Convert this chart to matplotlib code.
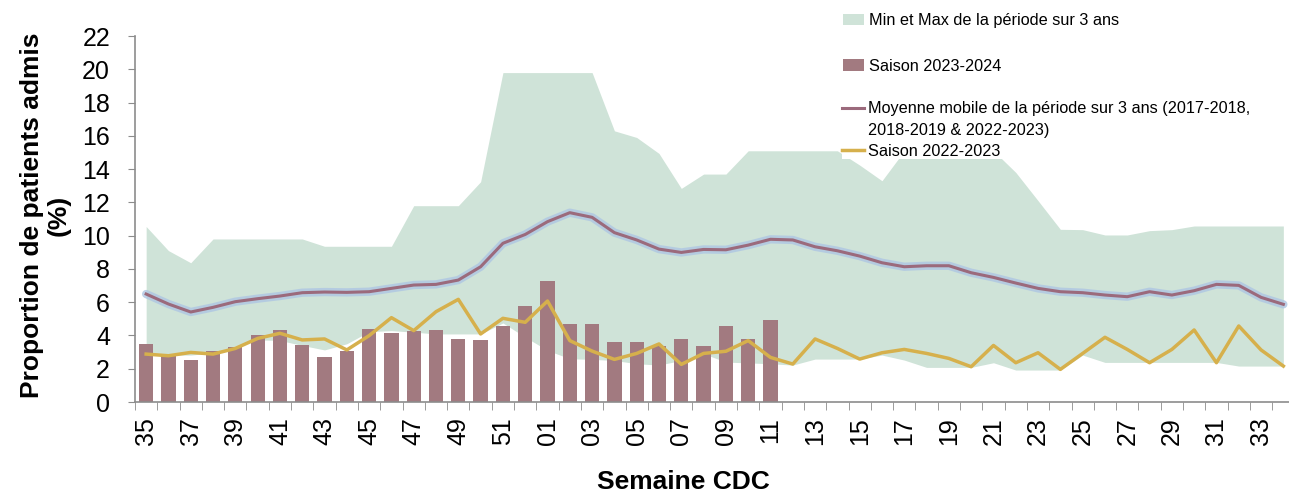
import numpy as np
import matplotlib
matplotlib.use("Agg")
import matplotlib.pyplot as plt
from matplotlib.patches import Patch
from matplotlib.lines import Line2D

plt.rcParams['font.family'] = ['Liberation Sans', 'DejaVu Sans']

# Semaines CDC (35 -> 34)
weeks = ['35', '36', '37', '38', '39', '40', '41', '42', '43', '44', '45', '46',
         '47', '48', '49', '50', '51', '52', '01', '02', '03', '04', '05', '06',
         '07', '08', '09', '10', '11', '12', '13', '14', '15', '16', '17', '18',
         '19', '20', '21', '22', '23', '24', '25', '26', '27', '28', '29', '30',
         '31', '32', '33', '34']

# Saison 2023-2024 (barres, jusqu'a la semaine 11)
saison_2324 = [3.5, 2.8, 2.55, 3.05, 3.3, 4.0, 4.33, 3.45, 2.7, 3.05, 4.4, 4.17,
               4.27, 4.33, 3.8, 3.7, 4.57, 5.75, 7.3, 4.67, 4.67, 3.63, 3.63, 3.37,
               3.8, 3.37, 4.57, 3.8, 4.93]

# Saison 2022-2023
saison_2223 = [2.88, 2.78, 2.98, 2.88, 3.22, 3.82, 4.13, 3.73, 3.79, 3.13, 3.99, 5.07,
               4.29, 5.43, 6.17, 4.09, 5.03, 4.79, 6.07, 3.69, 3.06, 2.56, 2.92, 3.49,
               2.26, 2.92, 3.05, 3.69, 2.68, 2.28, 3.79, 3.22, 2.58, 2.96, 3.16, 2.92,
               2.62, 2.12, 3.4, 2.36, 2.96, 1.96, 2.92, 3.89, 3.16, 2.36, 3.16, 4.33,
               2.36, 4.57, 3.13, 2.16]

# Moyenne mobile sur 3 ans
moyenne = [6.49, 5.89, 5.41, 5.69, 6.03, 6.21, 6.37, 6.57, 6.61, 6.59, 6.63, 6.83,
           7.03, 7.07, 7.33, 8.13, 9.54, 10.07, 10.84, 11.38, 11.1, 10.18, 9.74, 9.19,
           8.99, 9.17, 9.15, 9.43, 9.78, 9.74, 9.33, 9.09, 8.77, 8.37, 8.13, 8.19,
           8.19, 7.77, 7.49, 7.15, 6.83, 6.63, 6.57, 6.43, 6.33, 6.63, 6.43, 6.69,
           7.07, 7.01, 6.29, 5.87]

# Min et Max sur 3 ans
band_min = [2.85, 2.82, 2.82, 2.95, 3.35, 3.73, 3.7, 3.4, 3.13, 3.5, 4.23, 4.29,
            4.2, 4.09, 4.09, 4.09, 4.75, 3.9, 3.1, 2.6, 2.56, 2.5, 2.3, 2.22,
            2.5, 2.9, 2.4, 2.35, 2.3, 2.22, 2.58, 2.58, 2.58, 2.82, 2.52, 2.08,
            2.08, 2.08, 2.36, 1.92, 1.92, 1.92, 2.82, 2.38, 2.38, 2.38, 2.38, 2.38,
            2.38, 2.16, 2.16, 2.16]
band_max = [10.55, 9.1, 8.37, 9.8, 9.8, 9.8, 9.8, 9.8, 9.36, 9.36, 9.36, 9.36,
            11.8, 11.8, 11.8, 13.24, 19.8, 19.8, 19.8, 19.8, 19.8, 16.3, 15.9, 14.94,
            12.84, 13.7, 13.7, 15.1, 15.1, 15.1, 15.1, 15.1, 14.24, 13.3, 15.1, 15.1,
            15.1, 15.1, 15.1, 13.8, 12.1, 10.38, 10.36, 10.04, 10.04, 10.3, 10.36, 10.58,
            10.58, 10.58, 10.58, 10.58]

c_band = '#cfe3d8'
c_bar = '#a27a80'
c_moy = '#9b6a7c'
c_glow = '#aec6e3'
c_gold = '#d6b04c'
c_axis = '#8c8c8c'

x = np.arange(len(weeks))

fig = plt.figure(figsize=(12.89, 4.93), dpi=100)
ax = fig.add_axes([135 / 1289, 1 - 402 / 493, (1294.5 - 135) / 1289, (402 - 36) / 493])

ax.fill_between(x, band_min, band_max, color=c_band, lw=0, zorder=1)
ax.bar(x[:len(saison_2324)], saison_2324, width=0.64, color=c_bar, zorder=2)
ax.plot(x, moyenne, color=c_glow, lw=6, alpha=0.8, solid_capstyle='round', zorder=3)
ax.plot(x, moyenne, color=c_moy, lw=2.2, zorder=4)
ax.plot(x, saison_2223, color=c_gold, lw=2.5, zorder=5)

ax.set_xlim(-0.5, len(weeks) - 0.5)
ax.set_ylim(0, 22)
ax.set_yticks(np.arange(0, 23, 2))
ax.set_xticks(x[::2])
ax.set_xticklabels(weeks[::2], rotation=90)
ax.set_xticks(np.arange(-0.5, len(weeks), 1), minor=True)

for s in ['top', 'right']:
    ax.spines[s].set_visible(False)
for s in ['left', 'bottom']:
    ax.spines[s].set_color(c_axis)
    ax.spines[s].set_linewidth(1.2)

ax.tick_params(axis='y', length=5, color=c_axis, labelsize=18, pad=13)
ax.tick_params(axis='x', which='major', length=0, labelsize=18, pad=11)
ax.tick_params(axis='x', which='minor', length=6, color=c_axis)

fig.text(45 / 1289, 1 - 215 / 493, 'Proportion de patients admis\n(%)', rotation=90,
         ha='center', va='center', fontsize=19, fontweight='bold', linespacing=1.15,
         multialignment='center')
fig.text(683 / 1289, 1 - 482 / 493, 'Semaine CDC', ha='center', va='center',
         fontsize=19, fontweight='bold')

h1 = [Patch(facecolor=c_band, edgecolor='none'), Patch(facecolor=c_bar, edgecolor='none')]
l1 = ['Min et Max de la période sur 3 ans', 'Saison 2023-2024']
leg1 = fig.legend(h1, l1, loc='upper left', bbox_to_anchor=(838 / 1289, 1 - 8 / 493),
                  fontsize=11.7, frameon=False, handlelength=1.3, handleheight=0.7,
                  handletextpad=0.3, labelspacing=1.9, borderaxespad=0, borderpad=0.3)

# la 2e ligne du libelle de la moyenne est une entree sans symbole
h2 = [Line2D([], [], color=c_moy, lw=2.2), Line2D([], [], color='none'),
      Line2D([], [], color=c_gold, lw=2.5)]
l2 = ['Moyenne mobile de la période sur 3 ans (2017-2018,', '2018-2019 & 2022-2023)',
      'Saison 2022-2023']
leg2 = fig.legend(h2, l2, loc='upper left', bbox_to_anchor=(842 / 1289, 1 - 101 / 493),
                  fontsize=11.7, frameon=True, facecolor='white', edgecolor='none',
                  framealpha=1, fancybox=False, handlelength=1.3,
                  handletextpad=0.3, labelspacing=0.38, borderaxespad=0, borderpad=0.03)
leg2.set_zorder(10)

fig.savefig('out.png', dpi=100)
